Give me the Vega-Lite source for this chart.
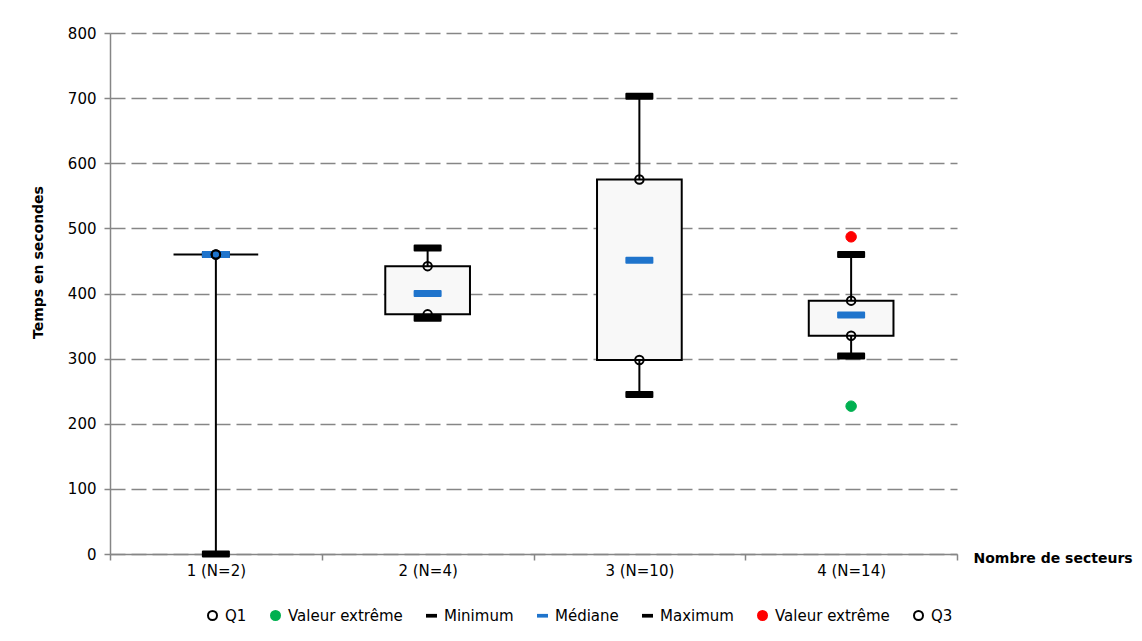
{
  "$schema": "https://vega.github.io/schema/vega-lite/v6.json",
  "autosize": "none",
  "padding": {"left": 110, "top": 33, "right": 185, "bottom": 87},
  "width": 847,
  "height": 521,
  "background": "white",
  "config": {
    "view": {"stroke": null},
    "font": "DejaVu Sans",
    "axis": {"labelFont": "DejaVu Sans", "titleFont": "DejaVu Sans"},
    "legend": {
      "orient": "none",
      "legendX": 95,
      "legendY": 575,
      "direction": "horizontal",
      "columns": 7,
      "columnPadding": 20,
      "symbolSize": 81,
      "symbolStrokeWidth": 2,
      "labelFontSize": 15,
      "labelColor": "black",
      "labelFont": "DejaVu Sans",
      "labelOffset": 5,
      "labelLimit": 300,
      "title": null
    }
  },
  "datasets": {
    "boites": [
      {"groupe": "1 (N=2)", "min": 0, "q1": 460, "q3": 460, "max": 460},
      {"groupe": "2 (N=4)", "min": 362, "q1": 368, "q3": 442, "max": 470},
      {"groupe": "3 (N=10)", "min": 245, "q1": 298, "q3": 575, "max": 703},
      {"groupe": "4 (N=14)", "min": 304, "q1": 335, "q3": 389, "max": 460}
    ],
    "points": [
      {"groupe": "1 (N=2)", "serie": "Minimum", "valeur": 0},
      {"groupe": "1 (N=2)", "serie": "Maximum", "valeur": 460},
      {"groupe": "2 (N=4)", "serie": "Minimum", "valeur": 362},
      {"groupe": "2 (N=4)", "serie": "Maximum", "valeur": 470},
      {"groupe": "3 (N=10)", "serie": "Minimum", "valeur": 245},
      {"groupe": "3 (N=10)", "serie": "Maximum", "valeur": 703},
      {"groupe": "4 (N=14)", "serie": "Minimum", "valeur": 304},
      {"groupe": "4 (N=14)", "serie": "Maximum", "valeur": 460},
      {"groupe": "1 (N=2)", "serie": "Médiane", "valeur": 460},
      {"groupe": "2 (N=4)", "serie": "Médiane", "valeur": 400},
      {"groupe": "3 (N=10)", "serie": "Médiane", "valeur": 451},
      {"groupe": "4 (N=14)", "serie": "Médiane", "valeur": 367},
      {"groupe": "4 (N=14)", "serie": "Valeur extrême", "valeur": 227},
      {"groupe": "4 (N=14)", "serie": "Valeur extrême\u00a0", "valeur": 487},
      {"groupe": "1 (N=2)", "serie": "Q1", "valeur": 460},
      {"groupe": "1 (N=2)", "serie": "Q3", "valeur": 460},
      {"groupe": "2 (N=4)", "serie": "Q1", "valeur": 368},
      {"groupe": "2 (N=4)", "serie": "Q3", "valeur": 442},
      {"groupe": "3 (N=10)", "serie": "Q1", "valeur": 298},
      {"groupe": "3 (N=10)", "serie": "Q3", "valeur": 575},
      {"groupe": "4 (N=14)", "serie": "Q1", "valeur": 335},
      {"groupe": "4 (N=14)", "serie": "Q3", "valeur": 389}
    ]
  },
  "encoding": {
    "x": {
      "field": "groupe",
      "type": "nominal",
      "sort": ["1 (N=2)", "2 (N=4)", "3 (N=10)", "4 (N=14)"],
      "scale": {"paddingInner": 0, "paddingOuter": 0},
      "axis": {
        "title": "Nombre de secteurs",
        "titleFontSize": 14,
        "titleFontWeight": "bold",
        "titleColor": "black",
        "titleX": 863,
        "titleY": 4,
        "titleAlign": "left",
        "titleBaseline": "middle",
        "titleAngle": 0,
        "labelAngle": 0,
        "labelFontSize": 15,
        "labelColor": "black",
        "labelPadding": 3,
        "tickBand": "extent",
        "tickColor": "#868686",
        "tickSize": 6,
        "tickWidth": 1.5,
        "domainColor": "#868686",
        "domainWidth": 1.5,
        "grid": false
      }
    }
  },
  "layer": [
    {
      "data": {"name": "boites"},
      "mark": {"type": "rule", "color": "black", "strokeWidth": 2},
      "encoding": {
        "y": {
          "field": "min",
          "type": "quantitative",
          "scale": {"domain": [0, 800]},
          "axis": {
            "title": "Temps en secondes",
            "titleFontSize": 14,
            "titleFontWeight": "bold",
            "titleColor": "black",
            "titleX": -72,
            "titleY": 229,
            "titleAlign": "center",
            "titleBaseline": "middle",
            "values": [0, 100, 200, 300, 400, 500, 600, 700, 800],
            "labelFontSize": 15,
            "labelColor": "black",
            "labelPadding": 8,
            "tickColor": "#868686",
            "tickSize": 6,
            "tickWidth": 1.5,
            "domainColor": "#868686",
            "domainWidth": 1.5,
            "grid": true,
            "gridColor": "#868686",
            "gridWidth": 1.5,
            "gridDash": [15, 6]
          }
        },
        "y2": {"field": "max"}
      }
    },
    {
      "data": {"name": "boites"},
      "mark": {"type": "bar", "width": {"band": 0.4}, "fill": "#f8f8f8", "stroke": "black", "strokeWidth": 2},
      "encoding": {
        "y": {"field": "q1", "type": "quantitative"},
        "y2": {"field": "q3"}
      }
    },
    {
      "data": {"name": "points"},
      "transform": [{"filter": {"field": "serie", "oneOf": ["Minimum", "Maximum", "Médiane"]}}],
      "mark": {"type": "point", "filled": false, "opacity": 1, "strokeWidth": 2, "size": 676, "strokeJoin": "round"},
      "encoding": {
        "y": {"field": "valeur", "type": "quantitative"},
        "shape": {
          "field": "serie",
          "type": "nominal",
          "sort": null,
          "scale": {
            "domain": ["Q1", "Valeur extrême", "Minimum", "Médiane", "Maximum", "Valeur extrême\u00a0", "Q3"],
            "range": ["circle", "circle", "M-1,-0.19H1V0.19H-1Z", "M-1,-0.19H1V0.19H-1Z", "M-1,-0.19H1V0.19H-1Z", "circle", "circle"]
          }
        },
        "fill": {
          "field": "serie",
          "type": "nominal",
          "scale": {
            "domain": ["Q1", "Valeur extrême", "Minimum", "Médiane", "Maximum", "Valeur extrême\u00a0", "Q3"],
            "range": ["transparent", "#00b050", "black", "#1f74cc", "black", "#ff0000", "transparent"]
          }
        },
        "stroke": {
          "field": "serie",
          "type": "nominal",
          "scale": {
            "domain": ["Q1", "Valeur extrême", "Minimum", "Médiane", "Maximum", "Valeur extrême\u00a0", "Q3"],
            "range": ["black", "#00b050", "black", "#1f74cc", "black", "#ff0000", "black"]
          }
        }
      }
    },
    {
      "data": {"name": "points"},
      "transform": [{"filter": {"field": "serie", "oneOf": ["Valeur extrême", "Valeur extrême\u00a0"]}}],
      "mark": {"type": "point", "filled": false, "opacity": 1, "strokeWidth": 1, "size": 110},
      "encoding": {
        "y": {"field": "valeur", "type": "quantitative"},
        "shape": {"field": "serie", "type": "nominal"},
        "fill": {"field": "serie", "type": "nominal"},
        "stroke": {"field": "serie", "type": "nominal"}
      }
    },
    {
      "data": {"name": "points"},
      "transform": [{"filter": {"field": "serie", "oneOf": ["Q1", "Q3"]}}],
      "mark": {"type": "point", "filled": false, "opacity": 1, "strokeWidth": 2, "size": 72},
      "encoding": {
        "y": {"field": "valeur", "type": "quantitative"},
        "shape": {"field": "serie", "type": "nominal"},
        "fill": {"field": "serie", "type": "nominal"},
        "stroke": {"field": "serie", "type": "nominal"}
      }
    }
  ]
}
